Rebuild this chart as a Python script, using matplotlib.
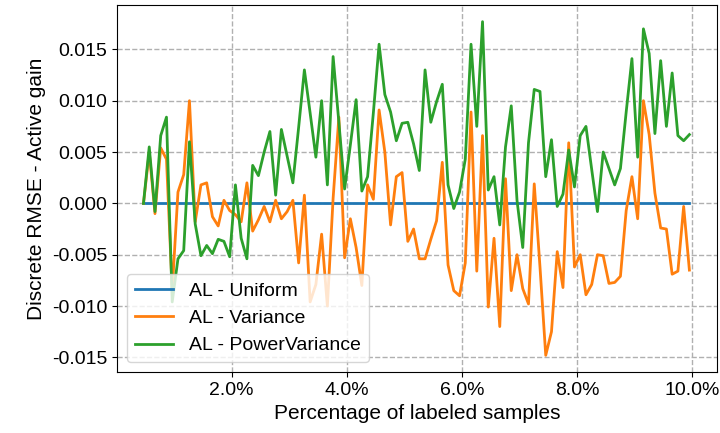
import numpy as np
import matplotlib
matplotlib.use("Agg")
import matplotlib.pyplot as plt
from matplotlib.ticker import PercentFormatter

plt.rcParams['font.family'] = ['Liberation Sans', 'DejaVu Sans']

# x: percentage of labeled samples
x_start = 0.47
x_step = 0.0998
n_points = 96
x_pct = x_start + x_step * np.arange(n_points)

uniform = [0.0] * n_points

variance = [
    0.0, 0.0050, -0.0010, 0.0054, 0.0043, -0.0085, 0.0011, 0.0028, 0.0100, -0.0018,
    0.0018, 0.0020, -0.0013, -0.0022, 0.0003, -0.0007, -0.0011, -0.0018, 0.0020, -0.0027,
    -0.0016, -0.0003, -0.0018, 0.0003, -0.0015, -0.0008, 0.0003, -0.0058, 0.0008, -0.0096,
    -0.0079, -0.0030, -0.0100, 0.0005, 0.0084, -0.0053, -0.0015, -0.0043, -0.0080, 0.0018,
    0.0004, 0.0091, 0.0050, -0.0021, 0.0026, 0.0030, -0.0037, -0.0025, -0.0054, -0.0054,
    -0.0035, -0.0017, 0.0040, -0.0060, -0.0085, -0.0090, -0.0058, 0.0089, -0.0066, 0.0066,
    -0.0101, -0.0034, -0.0120, 0.0024, -0.0085, -0.0050, -0.0083, -0.0098, 0.0019, -0.0062,
    -0.0148, -0.0125, -0.0047, -0.0082, 0.0059, -0.0062, -0.0050, -0.0089, -0.0079, -0.0050,
    -0.0051, -0.0078, -0.0077, -0.0071, -0.0007, 0.0026, -0.0015, 0.0100, 0.0067, 0.0010,
    -0.0024, -0.0025, -0.0069, -0.0066, -0.0003, -0.0065,
]

power_variance = [
    0.0, 0.0055, -0.0008, 0.0066, 0.0084, -0.0096, -0.0054, -0.0046, 0.0060, -0.0020,
    -0.0051, -0.0041, -0.0049, -0.0035, -0.0037, -0.0052, 0.0018, -0.0034, -0.0054, 0.0037,
    0.0027, 0.0050, 0.0070, 0.0008, 0.0072, 0.0046, 0.0020, 0.0074, 0.0130, 0.0088,
    0.0045, 0.0100, 0.0018, 0.0143, 0.0079, 0.0014, 0.0057, 0.0101, 0.0012, 0.0026,
    0.0088, 0.0155, 0.0106, 0.0089, 0.0061, 0.0078, 0.0079, 0.0058, 0.0032, 0.0130,
    0.0079, 0.0099, 0.0116, 0.0018, -0.0005, 0.0011, 0.0043, 0.0155, 0.0075, 0.0177,
    0.0013, 0.0026, -0.0021, 0.0055, 0.0095, 0.0003, -0.0043, 0.0059, 0.0111, 0.0109,
    0.0026, 0.0062, -0.0003, 0.0009, 0.0052, 0.0016, 0.0066, 0.0075, 0.0033, -0.0008,
    0.0050, 0.0034, 0.0018, 0.0034, 0.0089, 0.0141, 0.0045, 0.0170, 0.0146, 0.0068,
    0.0139, 0.0075, 0.0127, 0.0066, 0.0061, 0.0067,
]

labels = ["AL - Uniform", "AL - Variance", "AL - PowerVariance"]
x_ticks = [2, 4, 6, 8, 10]

fig = plt.figure(figsize=(7.2, 4.33), dpi=100)
ax = fig.add_axes([0.1625, 0.1409, 0.8333, 0.8476])

ax.plot(x_pct, uniform, color='tab:blue', lw=2, label=labels[0])
ax.plot(x_pct, variance, color='tab:orange', lw=2, label=labels[1])
ax.plot(x_pct, power_variance, color='tab:green', lw=2, label=labels[2])

ax.set_xlim(0.01, 10.43)
ax.set_xticks(x_ticks)
ax.xaxis.set_major_formatter(PercentFormatter(xmax=100, decimals=1))
ax.set_yticks([-0.015, -0.010, -0.005, 0.0, 0.005, 0.010, 0.015])
ax.yaxis.set_major_formatter(matplotlib.ticker.FormatStrFormatter('%.3f'))
ax.grid(True, linestyle='--', color='#b0b0b0', linewidth=1.0)
ax.tick_params(labelsize=14)
ax.set_xlabel("Percentage of labeled samples", fontsize=15)
ax.set_ylabel("Discrete RMSE - Active gain", fontsize=15)
ax.legend(loc='lower left', fontsize=14)

fig.savefig("out.png", dpi=100)
